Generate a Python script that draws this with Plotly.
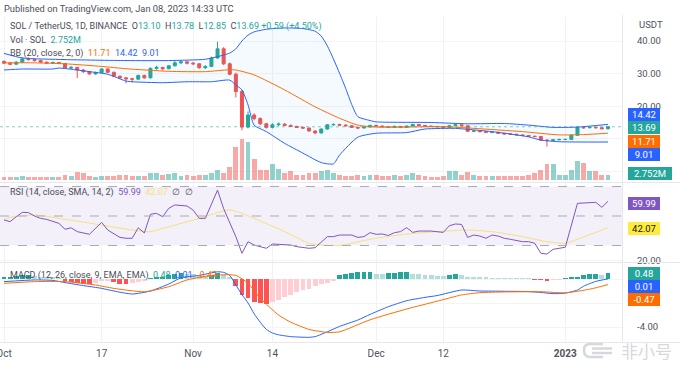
import pandas as pd
import plotly.graph_objects as go

FONT = "Roboto, Arial, sans-serif"
W, H = 680, 366
UP, DOWN = "#26A69A", "#EF5350"

start = "2022-10-01"

opens = [33.7, 33.2, 32.9, 33.5, 34.5, 34.3, 34.0, 33.5, 33.2, 33.4,
         33.1, 31.7, 31.9, 31.1, 30.6, 29.9, 30.3, 31.4, 30.4, 29.2,
         28.7, 28.4, 28.3, 29.4, 28.7, 31.6, 31.9, 31.5, 32.4, 33.3,
         33.6, 33.2, 33.0, 31.8, 32.2, 34.8, 37.6, 33.0, 29.8, 24.5,
         13.6, 17.3, 16.2, 14.6, 13.5, 14.3, 14.5, 14.1, 13.8, 13.5,
         13.3, 12.4, 11.8, 13.0, 14.3, 14.4, 14.2, 14.0, 13.5, 13.3,
         13.6, 14.1, 13.9, 13.7, 13.5, 13.8, 13.5, 13.9, 14.4, 14.1,
         13.9, 13.8, 13.7, 13.5, 14.0, 14.3, 14.0, 12.3, 12.4, 12.2,
         11.9, 12.0, 11.7, 11.5, 11.4, 11.2, 11.0, 10.8, 10.7, 9.6,
         9.5, 9.7, 9.8, 9.8, 11.1, 13.5, 13.4, 13.5, 13.4, 13.10]
highs = [34.1, 33.6, 33.8, 35.0, 35.0, 34.6, 34.2, 33.7, 33.7, 33.6,
         33.2, 32.3, 32.0, 31.4, 30.8, 30.6, 31.7, 31.6, 30.6, 29.4,
         28.9, 28.7, 29.7, 29.7, 31.9, 32.4, 32.1, 32.6, 33.8, 33.9,
         33.8, 33.6, 33.2, 32.6, 35.2, 39.8, 38.1, 33.4, 30.3, 25.0,
         18.4, 17.8, 16.6, 14.9, 14.8, 15.0, 14.8, 14.4, 14.0, 13.7,
         13.4, 12.6, 13.2, 14.5, 14.7, 14.6, 14.4, 14.2, 13.7, 13.8,
         14.3, 14.3, 14.1, 13.8, 14.0, 13.9, 14.0, 14.6, 14.5, 14.2,
         14.0, 13.9, 13.8, 14.3, 14.6, 14.4, 14.1, 12.7, 12.5, 12.3,
         12.2, 12.1, 11.8, 11.6, 11.5, 11.3, 11.1, 10.9, 10.8, 9.9,
         9.9, 10.0, 10.0, 11.3, 13.8, 13.9, 13.8, 13.7, 13.6, 13.78]
lows = [32.9, 32.6, 32.7, 33.3, 34.0, 33.7, 33.2, 33.0, 33.0, 32.9,
        31.5, 31.4, 28.6, 30.2, 29.6, 29.7, 30.1, 30.2, 29.0, 28.4,
        27.0, 27.3, 28.1, 28.4, 28.5, 31.2, 31.0, 31.3, 32.2, 32.9,
        32.8, 32.6, 31.5, 31.4, 32.0, 34.5, 32.6, 29.5, 22.7, 12.6,
        13.2, 15.7, 14.2, 13.1, 13.2, 14.0, 13.9, 13.6, 13.3, 13.0,
        12.2, 11.4, 11.6, 12.8, 14.0, 13.9, 13.8, 13.4, 13.1, 13.2,
        13.5, 13.7, 13.5, 13.3, 13.4, 13.3, 13.4, 13.8, 13.9, 13.7,
        13.6, 13.5, 13.2, 13.4, 13.9, 13.8, 12.1, 12.1, 12.0, 11.8,
        11.8, 11.5, 11.3, 11.2, 11.0, 10.8, 10.6, 10.5, 9.4, 7.6,
        9.3, 9.5, 9.6, 9.7, 11.0, 13.1, 13.2, 13.2, 12.9, 12.85]
closes = [33.2, 32.9, 33.5, 34.5, 34.3, 34.0, 33.5, 33.2, 33.4, 33.1,
          31.8, 31.9, 31.1, 30.6, 29.9, 30.3, 31.4, 30.4, 29.2, 28.7,
          28.4, 28.3, 29.4, 28.7, 31.6, 31.9, 31.5, 32.4, 33.3, 33.6,
          33.2, 33.0, 31.8, 32.2, 34.8, 37.6, 33.0, 29.8, 24.5, 13.6,
          17.3, 16.2, 14.6, 13.5, 14.3, 14.5, 14.1, 13.8, 13.5, 13.3,
          12.4, 11.8, 13.0, 14.3, 14.4, 14.2, 14.0, 13.5, 13.3, 13.6,
          14.1, 13.9, 13.7, 13.5, 13.8, 13.5, 13.9, 14.4, 14.1, 13.9,
          13.8, 13.7, 13.5, 14.0, 14.3, 14.0, 12.3, 12.4, 12.2, 12.0,
          12.0, 11.7, 11.5, 11.4, 11.2, 11.0, 10.8, 10.7, 9.6, 9.5,
          9.7, 9.8, 9.8, 11.1, 13.5, 13.4, 13.5, 13.4, 13.1, 13.69]
volumes_m = [1.8, 1.8, 1.8, 2.1, 1.8, 1.8, 1.8, 1.5, 1.5, 1.8,
             2.7, 2.4, 4.3, 3.7, 2.4, 1.8, 2.1, 2.4, 2.4, 2.7,
             2.7, 2.4, 2.4, 2.1, 3.7, 3.7, 3.0, 3.4, 3.7, 2.4,
             2.7, 2.4, 2.75, 2.75, 3.7, 5.8, 3.7, 7.9, 20.1, 25.0,
             22.6, 12.8, 5.8, 5.8, 9.5, 6.7, 3.7, 5.2, 2.75, 2.75,
             3.7, 3.7, 4.9, 6.1, 3.7, 3.0, 2.4, 2.4, 3.0, 2.4,
             3.0, 3.0, 2.4, 2.4, 3.0, 2.4, 3.0, 3.7, 3.0, 2.4,
             1.8, 1.8, 2.4, 4.9, 4.9, 3.0, 4.3, 3.0, 2.4, 2.4,
             2.4, 2.4, 2.4, 2.4, 2.4, 2.4, 3.0, 3.7, 6.1, 9.2,
             9.2, 3.0, 2.75, 5.8, 11.3, 9.8, 4.9, 4.9, 3.0, 2.752]

# Bollinger bands (20, 2): day offset from start, value
bb_upper_day = [0, 3, 10, 20, 27, 33, 35, 37, 38, 39, 40, 41, 43, 46, 49, 51, 52, 53, 54, 55,
                56, 57, 58, 60, 61, 70, 76, 82, 86, 90, 94, 99]
bb_upper = [36.2, 34.8, 34.3, 34.0, 34.0, 34.4, 35.2, 36.3, 37.6, 40.0, 41.8, 42.8, 43.6, 44.0,
            43.8, 43.0, 41.5, 38.5, 34.5, 30.1, 25.5, 20.5, 16.8, 15.6, 15.2, 15.0, 14.6,
            14.7, 14.2, 13.5, 13.6, 14.42]
bb_basis_day = [0, 5, 10, 16, 20, 27, 33, 37, 38, 41, 46, 51, 55, 58, 61, 72, 77, 85, 91, 95, 99]
bb_basis = [33.3, 33.3, 33.0, 32.2, 31.5, 30.7, 30.6, 31.2, 31.1, 29.6, 25.0, 19.8, 16.3, 14.2,
            13.6, 13.7, 13.2, 12.2, 11.2, 11.3, 11.71]
bb_lower_day = [0, 3, 8, 9, 14, 17, 20, 21, 26, 30, 34, 37, 38, 39, 40, 41, 43, 46, 49, 52, 54,
                55, 58, 61, 66, 69, 74, 76, 80, 86, 88, 91, 99]
bb_lower = [31.1, 31.4, 31.4, 31.7, 30.6, 29.8, 27.7, 27.5, 27.2, 27.5, 27.5, 28.0, 26.5, 25.0,
            20.4, 14.2, 12.2, 8.6, 5.6, 2.7, 2.3, 5.0, 10.5, 11.7, 11.9, 13.0, 13.2, 12.9,
            12.2, 10.6, 9.6, 9.1, 9.01]

# RSI (14) and its SMA (14)
rsi_day = [0, 1, 2, 3, 4, 5, 6, 7, 9, 10, 11, 12, 14, 16, 17, 19, 20, 21, 22, 23, 24, 25, 26,
           27, 28, 30, 31, 32, 33, 34, 35, 36, 37, 38, 39, 40, 41, 43, 44, 46, 47, 48, 50, 51,
           53, 54, 55, 57, 58, 59, 60, 61, 62, 63, 64, 65, 66, 67, 68, 70, 71, 72, 73, 74, 75,
           76, 77, 78, 79, 80, 81, 82, 83, 85, 86, 87, 88, 89, 90, 91, 92, 94, 95, 96, 97, 98, 99]
rsi = [47.3, 46.2, 49.5, 52.5, 52.3, 50.0, 48.4, 47.7, 45.0, 41.0, 42.0, 39.4, 37.6, 45.7, 40.5,
       35.5, 34.9, 34.9, 42.0, 38.5, 51.2, 51.8, 49.5, 55.2, 57.5, 56.8, 54.0, 48.4, 48.4, 57.5,
       67.6, 55.0, 46.0, 36.0, 24.7, 32.6, 30.3, 28.1, 31.0, 30.3, 30.3, 29.2, 28.1, 28.5, 36.0,
       36.0, 37.1, 37.1, 35.5, 36.0, 38.7, 37.6, 37.8, 36.8, 38.7, 39.4, 42.1, 38.9, 39.8, 39.8,
       39.4, 38.9, 43.4, 44.6, 44.3, 35.5, 37.1, 36.4, 34.9, 37.1, 36.4, 34.9, 34.2, 32.6, 32.6,
       31.5, 24.7, 24.2, 27.4, 28.0, 28.8, 58.6, 58.9, 58.9, 59.3, 55.9, 59.99]
rsi_ma_day = [0, 1, 5, 10, 16, 21, 24, 27, 32, 37, 41, 46, 50, 52, 55, 60, 66, 71, 76, 80, 85,
              89, 92, 94, 99]
rsi_ma = [47.5, 49.1, 50.7, 47.8, 43.9, 40.5, 39.4, 42.7, 48.4, 54.1, 48.4, 39.4, 31.5, 30.3,
          30.0, 34.2, 37.8, 39.4, 40.5, 39.4, 36.0, 32.6, 31.5, 34.2, 42.07]

# MACD (12, 26, 9)
macd_day = [0, 5, 8, 10, 13, 16, 18, 21, 24, 27, 29, 32, 35, 36, 37, 38, 39, 40, 41, 42, 43, 44,
            45, 47, 50, 51, 53, 55, 58, 60, 63, 66, 69, 71, 75, 78, 82, 86, 88, 90, 92, 94, 95,
            97, 99]
macd = [-0.22, -0.08, -0.12, -0.30, -0.55, -0.78, -1.00, -1.25, -1.00, -0.42, 0.10, 0.30, 0.60,
        0.55, 0.30, -0.50, -1.30, -2.00, -2.90, -3.60, -4.20, -4.50, -4.65, -4.80, -4.86, -4.80,
        -4.40, -3.95, -3.42, -2.95, -2.31, -1.81, -1.53, -1.38, -0.92, -1.00, -1.02, -1.05,
        -1.12, -1.22, -1.18, -0.92, -0.60, -0.20, 0.01]
signal_day = [0, 5, 10, 15, 18, 23, 27, 30, 34, 38, 40, 42, 45, 47, 50, 53, 55, 60, 66, 71, 75,
              78, 82, 88, 92, 96, 99]
signal = [-0.36, -0.22, -0.22, -0.50, -0.78, -1.06, -0.64, -0.08, 0.30, 0.30, -0.36, -1.60,
          -3.00, -3.60, -4.20, -4.45, -4.40, -3.40, -2.50, -1.85, -1.33, -1.14, -1.08, -1.06,
          -1.15, -0.85, -0.47]
hist = [0.15, 0.20, 0.25, 0.30, 0.30, 0.25, 0.20, 0.15, 0.10, 0.05,
        -0.15, -0.25, -0.35, -0.40, -0.42, -0.30, -0.20, -0.12, -0.25, -0.38,
        -0.45, -0.35, -0.25, -0.10, 0.05, 0.10, 0.20, 0.35, 0.45, 0.50,
        0.45, 0.40, 0.30, 0.25, 0.35, 0.50, 0.35, 0.10, -0.60, -1.30,
        -1.60, -1.90, -2.00, -2.05, -1.95, -1.75, -1.50, -1.30, -1.10, -0.95,
        -0.80, -0.60, -0.45, -0.30, -0.15, 0.30, 0.45, 0.50, 0.55, 0.58,
        0.62, 0.45, 0.40, 0.50, 0.52, 0.55, 0.56, 0.45, 0.40, 0.35,
        0.30, 0.28, 0.25, 0.35, 0.38, 0.30, 0.20, 0.15, 0.12, 0.10,
        0.08, 0.06, 0.05, 0.04, 0.03, 0.02, 0.01, -0.03, -0.08, -0.12,
        -0.08, -0.04, 0.03, 0.10, 0.20, 0.30, 0.38, 0.40, 0.36, 0.48]

tick_dates = ["2022-10-01", "2022-10-17", "2022-11-01", "2022-11-14", "2022-12-01",
              "2022-12-12", "2023-01-01"]
tick_text = ["Oct", "17", "Nov", "14", "Dec", "12", "<b>2023</b>"]

# ---------------------------------------------------------------------------
t0 = pd.Timestamp(start)
dates = pd.date_range(t0, periods=len(closes), freq="D")


def on_days(days):
    return [t0 + pd.Timedelta(days=d) for d in days]


def fy(px):
    return 1 - px / H


DAY_MS = 86400000
vol_colors = ["rgba(38,166,154,0.5)" if c >= o else "rgba(239,83,80,0.5)"
              for o, c in zip(opens, closes)]
hist_colors = []
prev = 0.0
for v in hist:
    if v >= 0:
        hist_colors.append("#26A69A" if v >= prev else "#B2DFDB")
    else:
        hist_colors.append("#FF5252" if v <= prev else "#FFCDD2")
    prev = v

SPL = dict(shape="spline", smoothing=0.6)
fig = go.Figure()
fig.add_trace(go.Bar(x=dates, y=volumes_m, marker=dict(color=vol_colors, line=dict(width=0)),
                     width=0.8 * DAY_MS, xaxis="x", yaxis="y", hoverinfo="skip"))
fig.add_trace(go.Scatter(x=on_days(bb_upper_day), y=bb_upper, mode="lines",
                         line=dict(color="#2962FF", width=1, **SPL), xaxis="x", yaxis="y2"))
fig.add_trace(go.Scatter(x=on_days(bb_lower_day), y=bb_lower, mode="lines",
                         line=dict(color="#2962FF", width=1, **SPL),
                         fill="tonexty", fillcolor="rgba(33,150,243,0.05)",
                         xaxis="x", yaxis="y2"))
fig.add_trace(go.Scatter(x=on_days(bb_basis_day), y=bb_basis, mode="lines",
                         line=dict(color="#FF6D00", width=1, **SPL), xaxis="x", yaxis="y2"))
fig.add_trace(go.Candlestick(x=dates, open=opens, high=highs, low=lows, close=closes,
                             increasing=dict(line=dict(color=UP, width=1), fillcolor=UP),
                             decreasing=dict(line=dict(color=DOWN, width=1), fillcolor=DOWN),
                             whiskerwidth=0, xaxis="x", yaxis="y2"))
fig.add_trace(go.Scatter(x=on_days(rsi_ma_day), y=rsi_ma, mode="lines",
                         line=dict(color="#F3E27A", width=1, **SPL), xaxis="x", yaxis="y3"))
fig.add_trace(go.Scatter(x=on_days(rsi_day), y=rsi, mode="lines",
                         line=dict(color="#7E57C2", width=1), xaxis="x", yaxis="y3"))
fig.add_trace(go.Bar(x=dates, y=hist, marker=dict(color=hist_colors, line=dict(width=0)),
                     width=0.8 * DAY_MS, xaxis="x", yaxis="y4"))
fig.add_trace(go.Scatter(x=on_days(macd_day), y=macd, mode="lines",
                         line=dict(color="#2962FF", width=1, **SPL), xaxis="x", yaxis="y4"))
fig.add_trace(go.Scatter(x=on_days(signal_day), y=signal, mode="lines",
                         line=dict(color="#FF6D00", width=1, **SPL), xaxis="x", yaxis="y4"))

XD = 622 / W
x_lo = (t0 - pd.Timedelta(hours=0.66 * 24)).strftime("%Y-%m-%d %H:%M:%S")
x_hi = (t0 + pd.Timedelta(hours=101.3 * 24)).strftime("%Y-%m-%d %H:%M:%S")

axfont = dict(family=FONT, size=9.5, color="#50535E")
common_y = dict(side="right", anchor="x", showgrid=True, gridcolor="#F3F4F7", zeroline=False,
                ticks="", tickfont=axfont, ticklabelstandoff=14, automargin=False,
                fixedrange=True)

fig.update_layout(
    width=W, height=H, margin=dict(l=0, r=0, t=0, b=0),
    paper_bgcolor="white", plot_bgcolor="white", showlegend=False, bargap=0,
    xaxis=dict(domain=[0, XD], anchor="y4", type="date", range=[x_lo, x_hi],
               tickvals=tick_dates, ticktext=tick_text,
               tickfont=dict(family=FONT, size=10, color="#50535E"),
               showgrid=True, gridcolor="#F0F2F6", zeroline=False, ticks="",
               ticklabelstandoff=4, ticklabeloverflow="allow", automargin=False,
               rangeslider=dict(visible=False), fixedrange=True),
    yaxis=dict(domain=[fy(182), fy(17)], range=[-1.525, 99.1], visible=False,
               showgrid=False, anchor="x", fixedrange=True),
    # hidden tick labels sit behind the value tags in the reference
    yaxis2=dict(overlaying="y", range=[-3.25, 47.36], tickvals=[0, 10, 20, 30, 40],
                ticktext=["", "", "20.00", "30.00", "40.00"], **common_y),
    yaxis3=dict(domain=[fy(262), fy(183)], range=[18.8, 72.4], tickvals=[20, 40, 60],
                ticktext=["20.00", "", ""], **common_y),
    yaxis4=dict(domain=[fy(342), fy(263)], range=[-5.25, 1.333], tickvals=[-4, -2, 0],
                ticktext=["-4.00", "", ""], **common_y),
)

WM = "#D6D8DC"
shapes = [
    dict(type="rect", xref="paper", x0=0, x1=XD, yref="y3", y0=30, y1=70,
         fillcolor="rgba(126,87,194,0.09)", line=dict(width=0), layer="below"),
]
for lvl in (70, 50, 30):
    shapes.append(dict(type="line", xref="paper", x0=0, x1=XD, yref="y3", y0=lvl, y1=lvl,
                       line=dict(color="#A8ABB5", width=1, dash="dash")))
shapes.append(dict(type="line", xref="paper", x0=0, x1=XD, yref="y2", y0=closes[-1],
                   y1=closes[-1], line=dict(color="rgba(38,166,154,0.55)", width=1, dash="dot")))
for ypx in (182.5, 262.5, 342.5):
    shapes.append(dict(type="line", xref="paper", x0=0, x1=1, yref="paper", y0=fy(ypx),
                       y1=fy(ypx), line=dict(color="#E6E8EE", width=1)))
shapes.append(dict(type="line", xref="paper", x0=622.5 / W, x1=622.5 / W, yref="paper",
                   y0=fy(342.5), y1=fy(15), line=dict(color="#E6E8EE", width=1)))
# watermark logo (light grey bracket with two bars)
shapes.append(dict(type="path", xref="paper", yref="paper",
                   path=f"M {603/W},{fy(344)} L {590/W},{fy(344)} "
                        f"Q {584/W},{fy(344)} {584/W},{fy(350)} Q {584/W},{fy(357)} "
                        f"{590/W},{fy(357)} L {603/W},{fy(357)}",
                   line=dict(color=WM, width=2.5)))
for ypx in (348.5, 353):
    shapes.append(dict(type="line", xref="paper", yref="paper", x0=592 / W, x1=612 / W,
                       y0=fy(ypx), y1=fy(ypx), line=dict(color=WM, width=2.5)))
fig.update_layout(shapes=shapes)

TXT = "#4A4D57"
HS = 9


def head(text, x_px, y_px, size=HS):
    return dict(x=x_px / W, y=fy(y_px), xref="paper", yref="paper", xanchor="left",
                yanchor="middle", text=text, showarrow=False,
                font=dict(family=FONT, size=size, color=TXT))


def c(txt, col):
    return f"<span style='color:{col}'>{txt}</span>"


G = "#26A69A"
ann = [
    head("Published on TradingView.com, Jan 08, 2023 14:33 UTC", 2, 8, 9.3),
    head("SOL / TetherUS, 1D, BINANCE  O" + c("13.10", G) + "  H" + c("13.78", G) + "  L"
         + c("12.85", G) + "  C" + c("13.69", G) + " " + c("+0.59 (+4.50%)", G), 8, 27),
    head("Vol · SOL  " + c("2.752M", G), 8, 40),
    head("BB (20, close, 2, 0)  " + c("11.71", "#FF6D00") + "  " + c("14.42", "#2962FF")
         + "  " + c("9.01", "#2962FF"), 8, 54),
    head("RSI (14, close, SMA, 14, 2)  " + c("59.99", "#7E57C2") + "  "
         + c("42.07", "#F3E27A") + "  ∅  ∅", 8, 192),
    head("MACD (12, 26, close, 9, EMA, EMA)  " + c("0.48", G) + "  " + c("0.01", "#2962FF")
         + "  " + c("-0.47", "#FF6D00"), 8, 275),
    dict(x=637 / W, y=fy(25), xref="paper", yref="paper", xanchor="left", yanchor="middle",
         text="USDT", showarrow=False, font=dict(family=FONT, size=9.5, color="#50535E")),
    dict(x=674 / W, y=fy(350.5), xref="paper", yref="paper", xanchor="right", yanchor="middle",
         text="非小号", showarrow=False,
         font=dict(family="Noto Sans CJK SC", size=17, color=WM)),
]


def tag(text, y_px, col, fcol="white", w=30):
    return dict(x=628 / W, y=fy(y_px), xref="paper", yref="paper", xanchor="left",
                yanchor="middle", text=text, showarrow=False, bgcolor=col, width=w, height=11,
                borderpad=1, borderwidth=0, align="center",
                font=dict(family=FONT, size=9.5, color=fcol))


ann += [
    tag("14.42", 114, "#2962FF"),
    tag("13.69", 128, "#26A69A"),
    tag("11.71", 141.3, "#FF6D00"),
    tag("9.01", 154.3, "#2962FF"),
    tag("2.752M", 173, "#26A69A", w=42),
    tag("59.99", 203.3, "#7E57C2"),
    tag("42.07", 228.2, "#FFEB3B", fcol="#131722"),
    tag("0.48", 273.3, "#26A69A"),
    tag("0.01", 286.7, "#2962FF"),
    tag("-0.47", 299.5, "#FF6D00"),
]
fig.update_layout(annotations=ann)

fig.write_html("out.html", config={"displayModeBar": False, "staticPlot": False},
               post_script="document.body.style.margin='0';document.body.style.overflow='hidden';")
